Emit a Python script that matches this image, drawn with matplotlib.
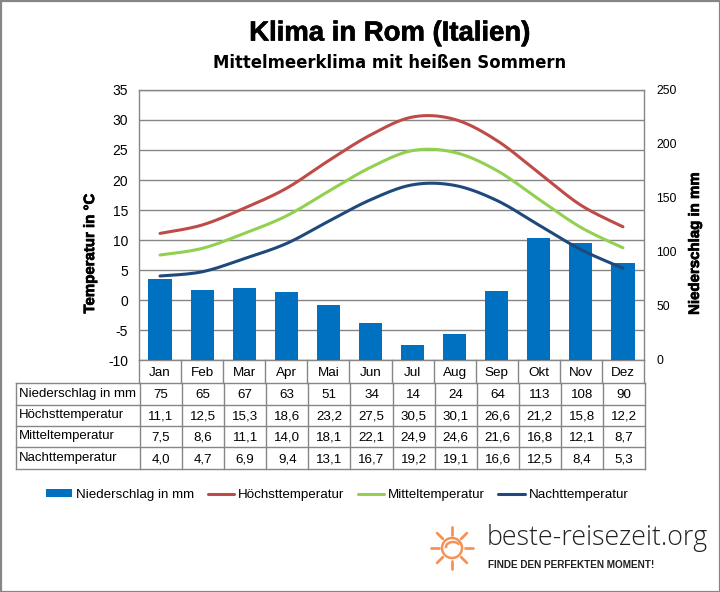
import numpy as np
import matplotlib
matplotlib.use("Agg")
import matplotlib.pyplot as plt
import matplotlib.patheffects as pe
from matplotlib.patches import Rectangle, Arc

plt.rcParams["font.family"] = ["Liberation Sans", "DejaVu Sans"]
plt.rcParams["axes.unicode_minus"] = False

# ── Data ──────────────────────────────────────────────────────
MONTHS = ["Jan", "Feb", "Mar", "Apr", "Mai", "Jun", "Jul", "Aug", "Sep", "Okt", "Nov", "Dez"]
RAIN = [75, 65, 67, 63, 51, 34, 14, 24, 64, 113, 108, 90]
T_MAX = [11.1, 12.5, 15.3, 18.6, 23.2, 27.5, 30.5, 30.1, 26.6, 21.2, 15.8, 12.2]
T_MEAN = [7.5, 8.6, 11.1, 14.0, 18.1, 22.1, 24.9, 24.6, 21.6, 16.8, 12.1, 8.7]
T_NIGHT = [4.0, 4.7, 6.9, 9.4, 13.1, 16.7, 19.2, 19.1, 16.6, 12.5, 8.4, 5.3]
ROW_NAMES = ["Niederschlag in mm", "Höchsttemperatur", "Mitteltemperatur", "Nachttemperatur"]
TEMP_TICKS = [-10, -5, 0, 5, 10, 15, 20, 25, 30, 35]
RAIN_TICKS = [0, 50, 100, 150, 200, 250]

COLORS = {
    "rain": "#0070C0",
    "max": "#BE4B48",
    "mean": "#92D050",
    "night": "#1F497D",
    "line": "#868686",
    "sun": "#F79256",
}

# faux heavy look of the title and axis labels
HEAVY = [pe.withStroke(linewidth=0.5, foreground="black")]


def smooth(xs, ys, steps=20):
    """Excel style smoothed line through the values (Catmull-Rom)."""
    p = np.column_stack([xs, ys]).astype(float)
    p = np.vstack([p[0], p, p[-1]])
    out = []
    t = np.linspace(0, 1, steps)[:, None]
    for i in range(1, len(p) - 2):
        a, b, c, d = p[i - 1], p[i], p[i + 1], p[i + 2]
        out.append(0.5 * (2 * b + (c - a) * t + (2 * a - 5 * b + 4 * c - d) * t ** 2
                          + (3 * b - a - 3 * c + d) * t ** 3))
    out = np.vstack(out)
    return out[:, 0], out[:, 1]


W, H = 720, 592
fig = plt.figure(figsize=(W / 100, H / 100), dpi=100, facecolor="white")

# overlay in pixel coordinates for table, frame and logo
ov = fig.add_axes([0, 0, 1, 1], zorder=5)
ov.set_xlim(0, W)
ov.set_ylim(H, 0)
ov.axis("off")
ov.patch.set_alpha(0)

# ── Plot ──────────────────────────────────────────────────────
L, R, T, B = 139, 644, 90, 360
ax = fig.add_axes([L / W, 1 - B / H, (R - L) / W, (B - T) / H], zorder=1)
x = np.arange(len(MONTHS))
ax.set_xlim(-0.5, len(MONTHS) - 0.5)
ax.set_ylim(-10, 35)
ax.set_yticks(TEMP_TICKS)
ax.tick_params(axis="y", length=0, labelsize=10, pad=8)
ax.set_xticks(x)
ax.set_xticklabels(MONTHS, fontsize=9.7)
ax.tick_params(axis="x", length=0, pad=5)
ax.grid(axis="y", color=COLORS["line"], lw=1)
ax.set_axisbelow(True)
for s in ax.spines.values():
    s.set_color(COLORS["line"])
    s.set_linewidth(1)
ax.set_ylabel("Temperatur in °C", fontsize=10.8, fontweight="bold", path_effects=HEAVY)
ax.yaxis.set_label_coords(-0.083, 0.393)

ax2 = ax.twinx()
ax2.set_ylim(0, 250)
ax2.set_yticks(RAIN_TICKS)
ax2.tick_params(axis="y", length=0, labelsize=8.8, pad=9)
for s in ax2.spines.values():
    s.set_visible(False)
ax2.set_ylabel("Niederschlag in mm", fontsize=10.8, fontweight="bold", path_effects=HEAVY)
ax2.yaxis.set_label_coords(1.087, 0.43)

bars = ax2.bar(x, RAIN, width=0.55, color=COLORS["rain"], label=ROW_NAMES[0])
handles = [bars]
for vals, key, name in zip([T_MAX, T_MEAN, T_NIGHT], ["max", "mean", "night"], ROW_NAMES[1:]):
    sx, sy = smooth(x, vals)
    ln, = ax2.plot(sx, sy, color=COLORS[key], lw=2.2, transform=ax.transData,
                   solid_capstyle="round", label=name)
    handles.append(ln)
ax2.set_ylim(0, 250)

# ── Titles ────────────────────────────────────────────────────
ov.text(390, 33.5, "Klima in Rom (Italien)", ha="center", va="center",
        fontsize=19.8, fontweight="bold", path_effects=HEAVY)
ov.text(390, 63, "Mittelmeerklima mit heißen Sommern", ha="center", va="center",
        fontsize=11.9, fontweight="bold", family="DejaVu Sans")

# ── Table ─────────────────────────────────────────────────────
col_w = (R - L) / 12
rows_y = [383, 405, 426, 447, 469]
tx0 = 16
ln_kw = dict(color=COLORS["line"], lw=1)
for yy in rows_y:
    ov.plot([tx0, R + 1], [yy, yy], **ln_kw)
ov.plot([tx0, tx0], [rows_y[0], rows_y[-1]], **ln_kw)
for i in range(13):
    xx = L + i * col_w
    ov.plot([xx, xx], [B, rows_y[0]], **ln_kw)
    ov.plot([xx + 1, xx + 1], [rows_y[0], rows_y[-1]], **ln_kw)

table_rows = [
    [str(v) for v in RAIN],
    [f"{v:.1f}".replace(".", ",") for v in T_MAX],
    [f"{v:.1f}".replace(".", ",") for v in T_MEAN],
    [f"{v:.1f}".replace(".", ",") for v in T_NIGHT],
]
for r, (name, vals) in enumerate(zip(ROW_NAMES, table_rows)):
    yc = (rows_y[r] + rows_y[r + 1]) / 2
    ov.text(19, yc - 0.5, name, ha="left", va="center", fontsize=9.5)
    for i, v in enumerate(vals):
        ov.text(L + 1 + (i + 0.5) * col_w, yc + 1, v, ha="center", va="center", fontsize=9.6)

# ── Legend ────────────────────────────────────────────────────
fig.legend(handles, ROW_NAMES, loc="center", bbox_to_anchor=(337 / W, 1 - 495 / H), ncol=4,
           frameon=False, fontsize=9.6, handlelength=2.0, handletextpad=0.25,
           columnspacing=1.03, handleheight=0.55)

# ── Logo ──────────────────────────────────────────────────────
cx, cy, rad = 452, 548, 10
ov.add_patch(Arc((cx, cy), 2 * rad, 2 * rad, theta1=0, theta2=360, color=COLORS["sun"], lw=1.8))
ov.add_patch(Arc((cx + 1, cy - 1), 14, 10, theta1=170, theta2=340, color=COLORS["sun"], lw=1.8))
for ang in np.arange(0, 360, 45):
    c, s = np.cos(np.radians(ang)), np.sin(np.radians(ang))
    ov.plot([cx + 13 * c, cx + 21 * c], [cy + 13 * s, cy + 21 * s], color=COLORS["sun"],
            lw=2, solid_capstyle="round")
ov.text(487, 538, "beste-reisezeit.org", ha="left", va="center", fontsize=19.3,
        color="#222222", family="Open Sans", fontweight="light")
ov.text(488, 565, "FINDE DEN PERFEKTEN MOMENT!", ha="left", va="center", fontsize=7.2,
        color="#222222", fontweight="bold")

# figure frame
ov.add_patch(Rectangle((0.5, 0.5), W - 1, H - 1, fill=False, ec=COLORS["line"], lw=1.6))

fig.savefig("out.png", dpi=100)
